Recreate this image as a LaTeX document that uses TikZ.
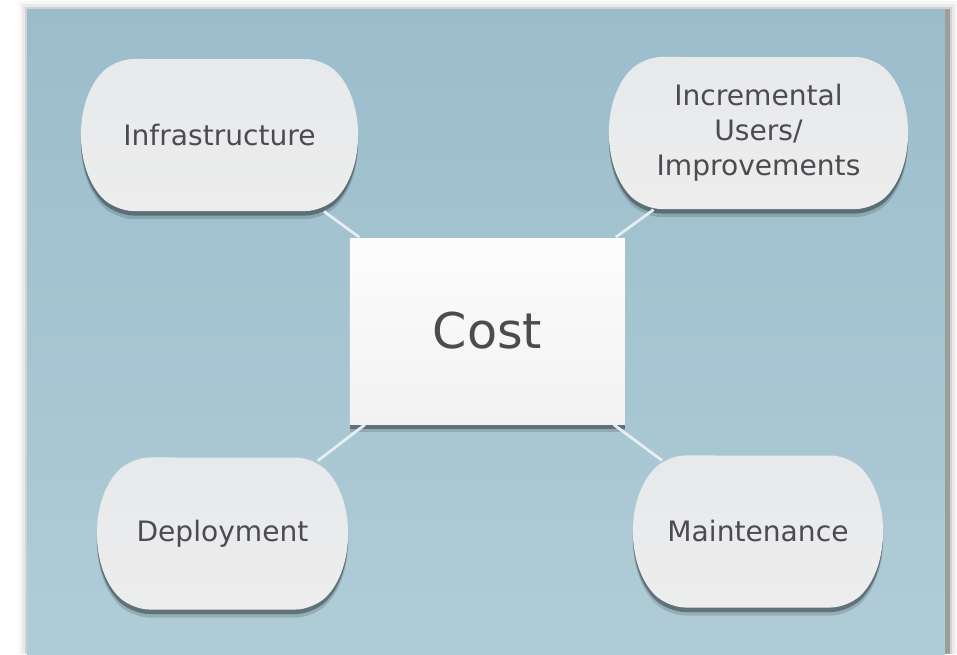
\documentclass[tikz,border=0pt]{standalone}
\usepackage{fontspec}
\setmainfont{DejaVu Sans}
\usetikzlibrary{shapes.misc,shadows}
\definecolor{panelTop}{HTML}{9BBDCB}
\definecolor{panelBot}{HTML}{B0CCD7}
\definecolor{bubbleTop}{HTML}{E7E9EB}
\definecolor{bubbleMid}{HTML}{F3F4F5}
\definecolor{bubbleBot}{HTML}{EDEDED}
\definecolor{labelGray}{HTML}{4B4B50}
\begin{document}
\begin{tikzpicture}[
	bubble/.style={rounded rectangle, rounded rectangle arc length=90, rounded corners=5pt,
		top color=bubbleTop, middle color=bubbleMid, bottom color=bubbleBot,
		text=labelGray, align=center, inner sep=0pt, minimum height=1.52cm,
		font=\fontsize{8}{10}\selectfont,
		drop shadow={shadow xshift=0pt, shadow yshift=-0.08cm, opacity=0.2, fill=black!70!panelTop},
		drop shadow={shadow xshift=0pt, shadow yshift=-0.045cm, opacity=0.5, fill=black!70!panelTop}},
	costbox/.style={rectangle, top color=white!98!gray, bottom color=white!90!gray,
		text=labelGray, minimum width=2.75cm, minimum height=1.86cm,
		font=\fontsize{14}{16}\selectfont,
		drop shadow={shadow xshift=0pt, shadow yshift=-0.08cm, opacity=0.2, fill=black!70!panelTop},
		drop shadow={shadow xshift=0pt, shadow yshift=-0.045cm, opacity=0.5, fill=black!70!panelTop}},
	link/.style={white!75!panelTop, line width=0.8pt}]
	\useasboundingbox (0,0) rectangle (9.57,6.54);
	\fill[white] (0,0) rectangle (9.57,6.54);
	
	%panel with its shadow
	\foreach \d/\o in {0.1/0.03, 0.07/0.05, 0.04/0.1, 0.02/0.25}{
		\fill[black, opacity=\o] (0.27-\d+0.02, 0) rectangle (9.45+\d+0.03, 6.45+\d-0.02);
	}
	\shade[top color=panelTop, bottom color=panelBot] (0.27,0) rectangle (9.45,6.45);
	
	%cost and the four parts
	\node[costbox] (cost) at (4.875, 3.23){Cost};
	\node[bubble, minimum width=2.71cm] (infra) at (2.195, 5.19){Infrastructure};
	\node[bubble, minimum width=2.93cm] (incr) at (7.585, 5.21){Incremental\\Users/\\Improvements};
	\node[bubble, minimum width=2.45cm] (deploy) at (2.225, 1.205){Deployment};
	\node[bubble, minimum width=2.44cm] (maint) at (7.58, 1.225){Maintenance};
	
	\foreach \n in {infra, incr, deploy, maint}{
		\draw[link] (\n) -- (cost);
	}
\end{tikzpicture}
\end{document}
